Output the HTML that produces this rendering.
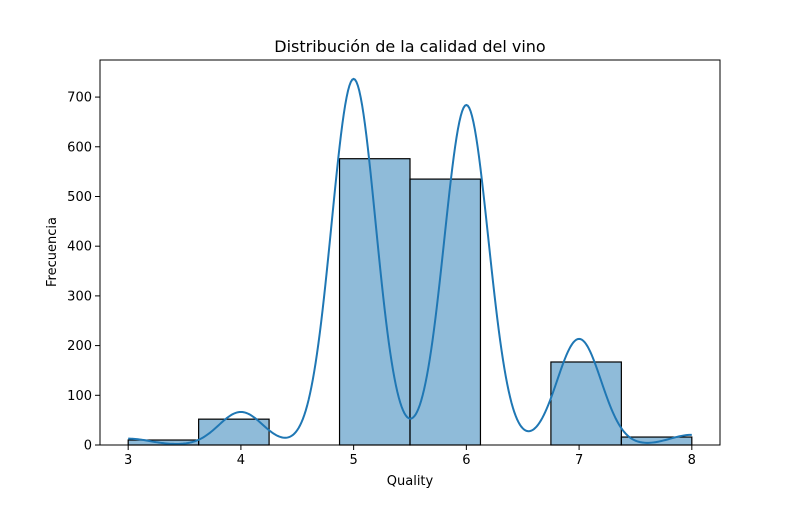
<!DOCTYPE html>
<html><head><meta charset="utf-8"><style>
body{margin:0;background:#fff;}
svg text{font-family:"DejaVu Sans","Liberation Sans",sans-serif;fill:#000;}
</style></head><body>
<svg id="chart" width="800" height="500" viewBox="0 0 800 500" xmlns="http://www.w3.org/2000/svg">
<rect width="800" height="500" fill="#fff"/>
<text x="410" y="52" font-size="16" text-anchor="middle">Distribución de la calidad del vino</text>
<g id="plot"></g>
<text x="410" y="485" font-size="13" text-anchor="middle">Quality</text>
<text x="56" y="252" font-size="13" text-anchor="middle" transform="rotate(-90 56 252)">Frecuencia</text>
</svg>
<script>
const qualities = [3, 4, 5, 6, 7, 8];
const counts = [10, 52, 576, 535, 167, 16];
const xTicks = [3, 4, 5, 6, 7, 8];
const yTicks = [0, 100, 200, 300, 400, 500, 600, 700];
const nBins = 8;
const bandwidth = 0.195;

const L = 100, R = 720, T = 60, B = 445;
const xMin = 2.75, xMax = 8.25, yMin = 0, yMax = 774.6;
const sx = v => L + (v - xMin) / (xMax - xMin) * (R - L);
const sy = v => B - (v - yMin) / (yMax - yMin) * (B - T);
const NS = "http://www.w3.org/2000/svg";
const g = document.getElementById('plot');
function mk(tag, attrs){const e=document.createElementNS(NS,tag);for(const k in attrs)e.setAttribute(k,attrs[k]);g.appendChild(e);return e;}

const lo = Math.min(...qualities), hi = Math.max(...qualities);
const bw = (hi - lo) / nBins;
const binCounts = new Array(nBins).fill(0);
qualities.forEach((q, i) => { let b = Math.floor((q - lo) / bw); if (b >= nBins) b = nBins - 1; binCounts[b] += counts[i]; });
binCounts.forEach((c, i) => {
  if (c <= 0) return;
  const x0 = sx(lo + i * bw), x1 = sx(lo + (i + 1) * bw);
  const r = mk('rect', {x: x0, y: sy(c), width: x1 - x0, height: sy(0) - sy(c), fill: 'rgba(31,119,180,0.5)', stroke: '#000', 'stroke-width': 1.2});
  
  
});

// KDE derived from counts
const total = counts.reduce((a, b) => a + b, 0);
let pts = [];
for (let k = 0; k <= 400; k++) {
  const x = lo + (hi - lo) * k / 400;
  let d = 0;
  qualities.forEach((q, i) => { const z = (x - q) / bandwidth; d += counts[i] * Math.exp(-0.5 * z * z); });
  d = d / (bandwidth * Math.sqrt(2 * Math.PI)) * bw;
  pts.push(sx(x).toFixed(2) + ',' + sy(d).toFixed(2));
}
const kde = mk('polyline', {points: pts.join(' '), fill: 'none', stroke: '#1f77b4', 'stroke-width': 2});



const frame = mk('rect', {x: L, y: T, width: R - L, height: B - T, fill: 'none', stroke: '#000', 'stroke-width': 1});



xTicks.forEach(v => {
  const x = sx(v);
  const t = mk('line', {x1: x, y1: B, x2: x, y2: B + 5, stroke: '#000', 'stroke-width': 1});
  
  
  const lb = mk('text', {x: x, y: B + 19, 'font-size': 13, 'text-anchor': 'middle'});
  lb.textContent = v;
  
  
});
yTicks.forEach(v => {
  const y = sy(v);
  const t = mk('line', {x1: L - 5, y1: y, x2: L, y2: y, stroke: '#000', 'stroke-width': 1});
  
  
  const lb = mk('text', {x: L - 8, y: y + 4.5, 'font-size': 13, 'text-anchor': 'end'});
  lb.textContent = v;
  
  
});
</script>
</body></html>
